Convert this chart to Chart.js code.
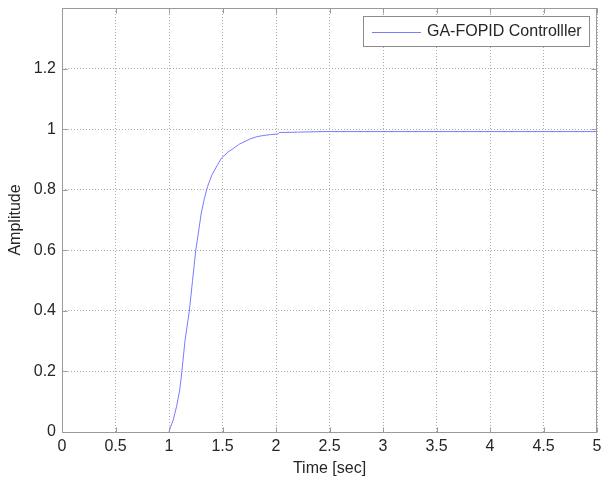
<!DOCTYPE html>
<html>
<head>
<meta charset="utf-8">
<script src="https://cdn.jsdelivr.net/npm/chart.js@4.4.1/dist/chart.umd.min.js"></script>
<style>
  html, body { margin: 0; padding: 0; background: #fff; }
  #wrap { width: 601px; height: 478px; position: relative; }
</style>
</head>
<body>
<div id="wrap"><canvas id="stepChart"></canvas></div>
<script>
// step response samples
var timeSec = [1.00, 1.01, 1.04, 1.07, 1.10, 1.12, 1.15, 1.19, 1.22, 1.25, 1.28, 1.30, 1.33, 1.36, 1.40,
               1.45, 1.49, 1.55, 1.60, 1.66, 1.76, 1.82, 1.88, 1.95, 2.02, 2.03, 2.20, 2.44, 3.0, 4.0, 5.0];
var amplitude = [0, 0.012, 0.04, 0.083, 0.138, 0.199, 0.303, 0.40, 0.50, 0.60, 0.67, 0.72, 0.77, 0.81, 0.848,
                 0.88, 0.904, 0.924, 0.936, 0.951, 0.968, 0.975, 0.979, 0.982, 0.984, 0.989, 0.99, 0.992, 0.992, 0.992, 0.992];
var seriesName = 'GA-FOPID Controlller';

var xTicks = [0, 0.5, 1, 1.5, 2, 2.5, 3, 3.5, 4, 4.5, 5];
var yTicks = [0, 0.2, 0.4, 0.6, 0.8, 1, 1.2];

var points = timeSec.map(function (t, i) { return { x: t, y: amplitude[i] }; });

var lineColor = '#7a7aff';
var textColor = '#262626';
var frameColor = '#9a9a9a';
var fontFamily = 'Arial, "Liberation Sans", Helvetica, sans-serif';

// box around the axes, inward tick marks, bordered legend top right
var frameAndLegend = {
  id: 'frameAndLegend',
  afterDatasetsDraw: function (chart) {
    var ctx = chart.ctx;
    var a = chart.chartArea;
    var L = Math.round(a.left) + 0.5, R = Math.round(a.right) - 0.5;
    var T = Math.round(a.top) + 0.5, B = Math.round(a.bottom) + 0.5;
    ctx.save();
    ctx.strokeStyle = frameColor;
    ctx.lineWidth = 1;
    ctx.strokeRect(L, T, R - L, B - T);

    ctx.beginPath();
    xTicks.forEach(function (v) {
      var px = Math.round(chart.scales.x.getPixelForValue(v)) + 0.5;
      ctx.moveTo(px, B); ctx.lineTo(px, B - 5);
      ctx.moveTo(px, T); ctx.lineTo(px, T + 5);
    });
    yTicks.forEach(function (v) {
      var py = Math.round(chart.scales.y.getPixelForValue(v)) + 0.5;
      ctx.moveTo(L, py); ctx.lineTo(L + 5, py);
      ctx.moveTo(R, py); ctx.lineTo(R - 5, py);
    });
    ctx.stroke();

    ctx.font = '16px ' + fontFamily;
    var label = chart.data.datasets[0].label;
    var textW = ctx.measureText(label).width;
    var boxRight = Math.round(a.right) - 8;
    var boxTop = Math.round(a.top) + 8;
    var boxH = 30;
    var boxW = Math.round(textW + 71);
    var boxLeft = boxRight - boxW;
    ctx.fillStyle = '#fff';
    ctx.fillRect(boxLeft, boxTop, boxW, boxH);
    ctx.strokeStyle = '#8c8c8c';
    ctx.strokeRect(boxLeft + 0.5, boxTop + 0.5, boxW, boxH);

    ctx.strokeStyle = lineColor;
    ctx.beginPath();
    ctx.moveTo(boxLeft + 9, boxTop + 16.5);
    ctx.lineTo(boxLeft + 58, boxTop + 16.5);
    ctx.stroke();

    ctx.fillStyle = textColor;
    ctx.textBaseline = 'middle';
    ctx.textAlign = 'left';
    ctx.fillText(label, boxLeft + 64, boxTop + 16);
    ctx.restore();
  }
};

function fixAxis(size, key) {
  return function (scale) {
    scale[key] = size;
    scale.paddingTop = 0; scale.paddingBottom = 0;
    scale.paddingLeft = 0; scale.paddingRight = 0;
  };
}

new Chart(document.getElementById('stepChart'), {
  type: 'line',
  data: {
    datasets: [{
      label: seriesName,
      data: points,
      borderColor: lineColor,
      borderWidth: 1,
      pointRadius: 0,
      fill: false,
      tension: 0
    }]
  },
  options: {
    responsive: true,
    maintainAspectRatio: false,
    animation: false,
    layout: { padding: { top: 8, right: 4, left: 0, bottom: 0 } },
    plugins: {
      legend: { display: false },
      tooltip: { enabled: false }
    },
    scales: {
      x: {
        type: 'linear',
        min: 0,
        max: 5,
        afterBuildTicks: function (scale) {
          scale.ticks = xTicks.map(function (v) { return { value: v }; });
        },
        afterFit: fixAxis(46, 'height'),
        ticks: {
          color: textColor,
          font: { family: fontFamily, size: 16 },
          padding: 5,
          maxRotation: 0,
          callback: function (v) { return String(v); }
        },
        grid: { color: '#ababab', drawTicks: false },
        border: { display: false, dash: [1, 2] },
        title: {
          display: true,
          text: 'Time [sec]',
          color: textColor,
          font: { family: fontFamily, size: 16 },
          padding: { top: 0, bottom: 0 }
        }
      },
      y: {
        min: 0,
        max: 1.4,
        afterBuildTicks: function (scale) {
          scale.ticks = yTicks.map(function (v) { return { value: v }; });
        },
        afterFit: fixAxis(62, 'width'),
        ticks: {
          color: textColor,
          font: { family: fontFamily, size: 16 },
          padding: 6,
          callback: function (v) { return String(Math.round(v * 10) / 10); }
        },
        grid: { color: '#ababab', drawTicks: false },
        border: { display: false, dash: [1, 2] },
        title: {
          display: true,
          text: 'Amplitude',
          color: textColor,
          font: { family: fontFamily, size: 16 },
          padding: { top: 6, bottom: 0 }
        }
      }
    }
  },
  plugins: [frameAndLegend]
});
</script>
</body>
</html>
